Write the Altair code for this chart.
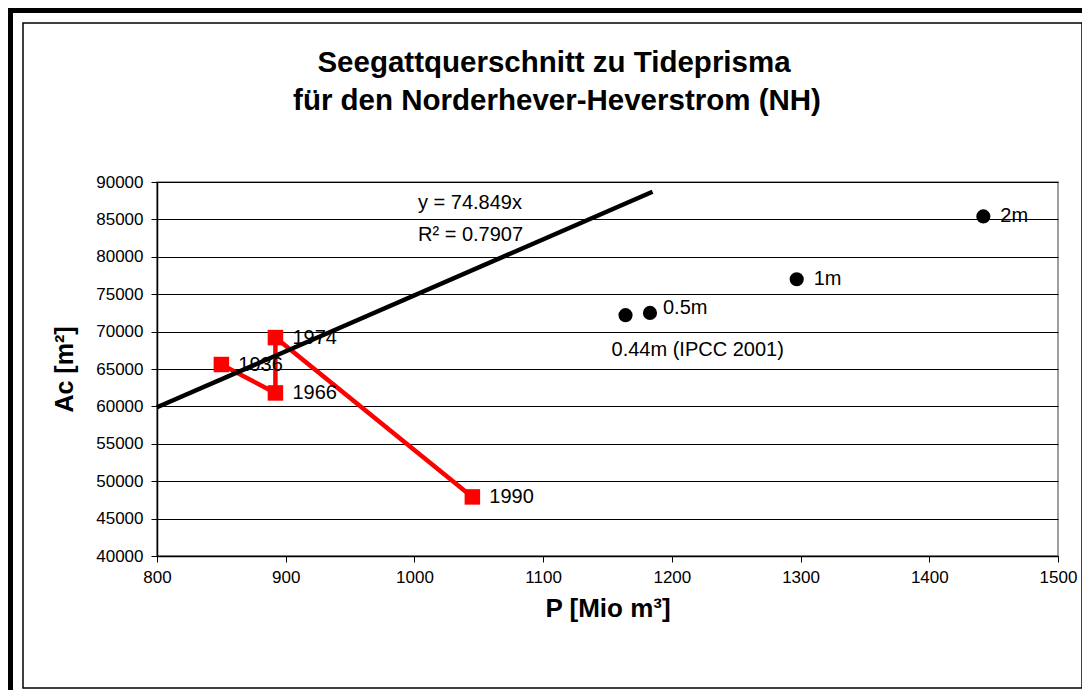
import altair as alt
import pandas as pd

# ---- data ----
red_p = [850, 892, 892, 1045]
red_ac = [65600, 61800, 69200, 47900]
red_lbl = ["1936", "1966", "1974", "1990"]

blk_p = [1164, 1183, 1297, 1442]
blk_ac = [72200, 72500, 77000, 85400]
blk_lbl = ["0.44m (IPCC 2001)", "0.5m", "1m", "2m"]

trend_p = [800, 1185]
trend_ac = [59879, 88696]

title_lines = ["Seegattquerschnitt zu Tideprisma", "für den Norderhever-Heverstrom (NH)"]
eq_lines = ["y = 74.849x", "R² = 0.7907"]
x_ticks = [800, 900, 1000, 1100, 1200, 1300, 1400, 1500]
y_ticks = [40000, 45000, 50000, 55000, 60000, 65000, 70000, 75000, 80000, 85000, 90000]

FONT = "Liberation Sans"
W, H = 901, 374
LBL = 20

red_df = pd.DataFrame({"P": red_p, "Ac": red_ac, "lbl": red_lbl, "i": range(len(red_p))})
blk_df = pd.DataFrame({"P": blk_p, "Ac": blk_ac, "lbl": blk_lbl})
trend_df = pd.DataFrame({"P": trend_p, "Ac": trend_ac})

xs = alt.Scale(domain=[800, 1500], nice=False, zero=False)
ys = alt.Scale(domain=[40000, 90000], nice=False, zero=False)

xax = alt.Axis(values=x_ticks, format="d", grid=False, title="P [Mio m³]",
               labelFontSize=17, labelFont=FONT, labelColor="black", labelPadding=7,
               labelOverlap=False, labelFlush=False,
               tickSize=6, tickColor="black", domainColor="black", domainWidth=1.5,
               titleFont=FONT, titleFontSize=26, titleFontWeight="bold", titleColor="black",
               titlePadding=10)
yax = alt.Axis(values=y_ticks, format="d", grid=True, gridColor="black", gridWidth=1,
               title="Ac [m²]", labelFontSize=17, labelFont=FONT, labelColor="black",
               labelPadding=8, labelOverlap=False, labelFlush=False, tickSize=6,
               tickColor="black", domainColor="black", domainWidth=1.5, titleFont=FONT,
               titleFontSize=25, titleFontWeight="bold", titleColor="black", titlePadding=18)

X = alt.X("P:Q", scale=xs, axis=xax)
Y = alt.Y("Ac:Q", scale=ys, axis=yax)

trend = alt.Chart(trend_df).mark_line(color="black", strokeWidth=4.5).encode(x=X, y=Y)

red_line = alt.Chart(red_df).mark_line(color="#ff0000", strokeWidth=4.5).encode(
    x=X, y=Y, order="i:O")
red_pts = alt.Chart(red_df).mark_square(color="#ff0000", size=240, opacity=1).encode(x=X, y=Y)
red_txt = alt.Chart(red_df).mark_text(align="left", baseline="middle", dx=17,
                                      fontSize=LBL, font=FONT, color="black").encode(
    x=X, y=Y, text="lbl:N")

blk_pts = alt.Chart(blk_df).mark_circle(color="black", size=200, opacity=1).encode(x=X, y=Y)
blk_txt_main = alt.Chart(blk_df).transform_filter(
    alt.FieldOneOfPredicate(field="lbl", oneOf=["1m", "2m"])
).mark_text(align="left", baseline="middle", dx=17, fontSize=LBL, font=FONT, color="black").encode(
    x=X, y=Y, text="lbl:N")
blk_txt_05 = alt.Chart(blk_df).transform_filter(
    alt.FieldEqualPredicate(field="lbl", equal="0.5m")
).mark_text(align="left", baseline="middle", dx=13, dy=-5, fontSize=LBL, font=FONT, color="black").encode(
    x=X, y=Y, text="lbl:N")
blk_txt_044 = alt.Chart(blk_df).transform_filter(
    alt.FieldEqualPredicate(field="lbl", equal="0.44m (IPCC 2001)")
).mark_text(align="left", baseline="middle", dx=-14, dy=35, fontSize=LBL, font=FONT, color="black").encode(
    x=X, y=Y, text="lbl:N")

one = alt.Data(values=[{}])


def txt(s, x, y, size, weight="normal", align="left"):
    return alt.Chart(one).mark_text(align=align, baseline="middle", fontSize=size,
                                    fontWeight=weight, font=FONT, color="black").encode(
        x=alt.value(x), y=alt.value(y), text=alt.value(s))


eq1 = txt(eq_lines[0], 261, 21, LBL)
eq2 = txt(eq_lines[1], 261, 53, LBL)
t1 = txt(title_lines[0], 397, -119, 29.5, "bold", "center")
t2 = txt(title_lines[1], 400, -81, 29.5, "bold", "center")

# frames
inner = alt.Chart(one).mark_rect(fill=None, stroke="black", strokeWidth=1.5).encode(
    x=alt.value(-134), x2=alt.value(925), y=alt.value(-159), y2=alt.value(506))
outer_left = alt.Chart(one).mark_rect(color="black").encode(
    x=alt.value(-149), x2=alt.value(-144), y=alt.value(-174), y2=alt.value(520))
outer_top = alt.Chart(one).mark_rect(color="black").encode(
    x=alt.value(-149), x2=alt.value(940), y=alt.value(-174), y2=alt.value(-169))

chart = alt.layer(
    red_line, trend, red_pts, red_txt, blk_pts, blk_txt_main, blk_txt_05, blk_txt_044,
    eq1, eq2, t1, t2, inner, outer_left, outer_top
).properties(
    width=W, height=H,
    autosize=alt.AutoSizeParams(type="none"),
    padding={"left": 149, "top": 174, "right": 24, "bottom": 134},
    background="white",
).configure_view(stroke="#808080", strokeWidth=1.5)

chart.save("out.html", embed_options={"renderer": "svg", "actions": False})
